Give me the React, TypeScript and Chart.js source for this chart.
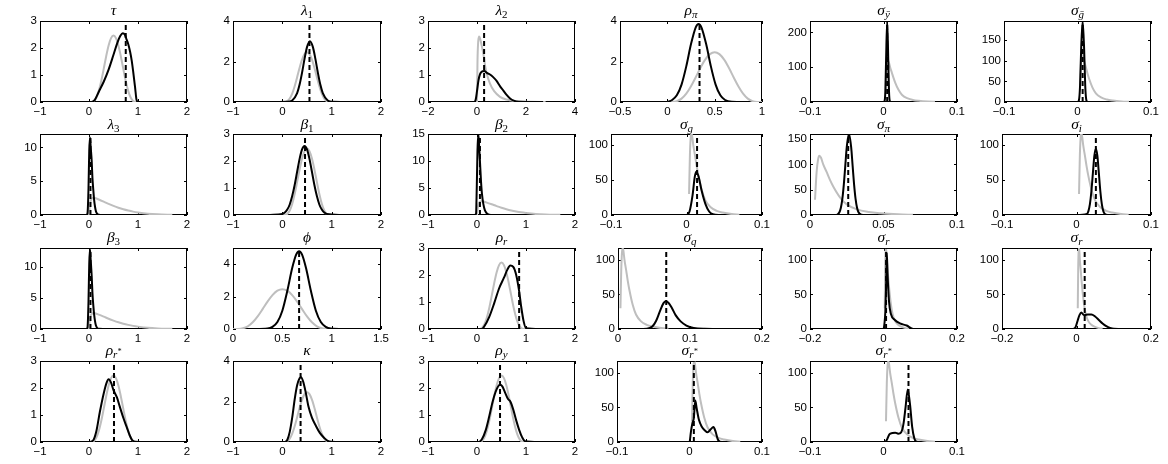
import React, { useEffect, useRef } from "react";
import { Chart, registerables } from "chart.js";

Chart.register(...registerables);

// ---------------- priors (grey) ----------------
const priorBeta: number[][] = [[0,0],[0.05,0.003],[0.1,0.041],[0.15,0.167],[0.2,0.413],[0.25,0.779],[0.3,1.225],[0.35,1.688],[0.4,2.09],[0.45,2.364],[0.5,2.461],[0.55,2.364],[0.6,2.09],[0.65,1.688],[0.7,1.225],[0.75,0.779],[0.8,0.413],[0.85,0.167],[0.9,0.041],[0.95,0.003],[1,0]];
const priorGamma: number[][] = [[0,0],[0.01,1.0],[0.03,2.0],[0.06,2.45],[0.1,2.55],[0.15,2.45],[0.2,2.3],[0.3,1.98],[0.4,1.65],[0.5,1.35],[0.6,1.08],[0.7,0.85],[0.8,0.66],[0.9,0.5],[1.0,0.38],[1.2,0.2],[1.4,0.1],[1.7,0.03]];
const priorLambda2: number[][] = [[0,0],[0.02,1.5],[0.05,2.25],[0.09,2.43],[0.14,2.3],[0.2,2.05],[0.26,1.78],[0.33,1.35],[0.4,1.05],[0.53,0.68],[0.7,0.4],[0.94,0.19],[1.2,0.09],[1.6,0.03],[2.2,0.01],[2.8,0]];
const priorSigma: number[][] = [[0.0034,30],[0.0045,85],[0.0055,110],[0.0064,117],[0.0075,113],[0.009,100],[0.0113,85],[0.0135,70],[0.0159,56],[0.0204,35],[0.025,21],[0.032,11],[0.04,6],[0.048,3.5],[0.06,1.3],[0.07,0.4]];

// ---------------- posteriors (black) ----------------
const postTau: number[][] = [[-0.22,0],[0.05,0],[0.12,0.08],[0.2,0.38],[0.3,0.75],[0.4,1.2],[0.5,1.75],[0.58,2.2],[0.64,2.45],[0.69,2.55],[0.73,2.5],[0.77,2.3],[0.8,2.15],[0.84,1.85],[0.87,1.55],[0.9,1.15],[0.94,0.55],[0.97,0.08],[1.0,0],[1.2,0]];
const postLambda1: number[][] = [[-0.1,0],[0.1,0.008],[0.2,0.077],[0.3,0.44],[0.35,0.86],[0.4,1.45],[0.45,2.13],[0.5,2.71],[0.56,3.0],[0.62,2.71],[0.67,2.13],[0.72,1.45],[0.77,0.86],[0.82,0.44],[0.92,0.077],[1.02,0.008],[1.3,0]];
const postLambda2: number[][] = [[-0.7,0],[-0.12,0],[-0.05,0.1],[0.0,0.4],[0.06,0.8],[0.12,1.02],[0.19,1.12],[0.3,1.15],[0.4,1.08],[0.53,1.02],[0.65,0.93],[0.8,0.78],[0.95,0.57],[1.07,0.43],[1.2,0.27],[1.35,0.13],[1.5,0.05],[1.7,0.01],[2.7,0]];
const postRhoPi: number[][] = [[0,0],[0.05,0.1],[0.1,0.33],[0.15,0.86],[0.2,1.76],[0.25,2.86],[0.3,3.69],[0.33,3.85],[0.36,3.69],[0.41,2.86],[0.46,1.76],[0.51,0.86],[0.56,0.33],[0.61,0.1],[0.68,0.01],[0.75,0]];
const postSigmaYbar: number[][] = [[-0.01,0],[0.0,0],[0.0015,3],[0.0025,30],[0.0035,120],[0.005,233],[0.0065,120],[0.0075,30],[0.0085,3],[0.01,0],[0.015,0]];
const postSigmaGbar: number[][] = [[-0.01,0],[0.0,0],[0.002,5],[0.0035,40],[0.005,130],[0.007,197],[0.009,130],[0.0105,40],[0.012,5],[0.014,0],[0.02,0]];
const postLambda3: number[][] = [[-0.05,0],[-0.03,0.3],[-0.01,4],[0.005,9.5],[0.02,11.5],[0.035,10],[0.055,8],[0.07,5.5],[0.088,3.7],[0.105,2.2],[0.122,1.26],[0.14,0.6],[0.16,0.25],[0.2,0.03],[0.3,0]];
const postBeta1: number[][] = [[-0.25,0],[0.0,0.038],[0.05,0.091],[0.1,0.2],[0.15,0.39],[0.2,0.7],[0.25,1.11],[0.3,1.6],[0.35,2.08],[0.4,2.43],[0.45,2.56],[0.5,2.43],[0.55,2.08],[0.6,1.6],[0.65,1.11],[0.7,0.7],[0.75,0.39],[0.8,0.2],[0.85,0.091],[0.9,0.038],[1.23,0]];
const postBeta2: number[][] = [[-0.05,0],[-0.02,0.2],[-0.005,5],[0.01,12],[0.027,15],[0.045,12.5],[0.06,10],[0.08,6.5],[0.1,4],[0.13,2.0],[0.16,0.9],[0.2,0.3],[0.25,0.05],[0.3,0]];
const postSigmaG: number[][] = [[-0.01,0],[0.0,0],[0.004,5],[0.008,28],[0.011,55],[0.013,62],[0.016,55],[0.02,35],[0.025,16],[0.03,5],[0.035,1],[0.045,0]];
const postSigmaPi: number[][] = [[0.011,0],[0.018,0.1],[0.02,5.4],[0.021,14.2],[0.022,31.7],[0.023,60],[0.024,97],[0.025,134],[0.0265,160],[0.028,134],[0.029,97],[0.03,60],[0.031,31.7],[0.032,14.2],[0.033,5.4],[0.035,0.5],[0.038,0]];
const postSigmaI: number[][] = [[-0.002,0],[0.014,1.6],[0.016,5.6],[0.018,15.5],[0.02,34],[0.022,60],[0.024,85],[0.026,95],[0.028,85],[0.03,60],[0.032,34],[0.034,15.5],[0.036,5.6],[0.038,1.6],[0.042,0.1],[0.05,0]];
const postBeta3: number[][] = [[-0.05,0],[-0.03,0.3],[-0.01,4.5],[0.005,10.5],[0.02,12.8],[0.035,11],[0.055,8.5],[0.07,5.8],[0.088,3.8],[0.105,2.3],[0.122,1.3],[0.14,0.6],[0.16,0.25],[0.2,0.03],[0.3,0]];
const postPhi: number[][] = [[0.2,0],[0.35,0.03],[0.4,0.13],[0.45,0.43],[0.5,1.13],[0.55,2.34],[0.6,3.76],[0.64,4.59],[0.67,4.8],[0.7,4.59],[0.74,3.76],[0.79,2.34],[0.84,1.13],[0.89,0.43],[0.94,0.13],[0.99,0.03],[1.15,0]];
const postRhoR: number[][] = [[-0.2,0],[0.1,0],[0.15,0.1],[0.25,0.45],[0.35,0.95],[0.45,1.5],[0.55,1.9],[0.62,2.2],[0.68,2.35],[0.74,2.3],[0.8,2.0],[0.86,1.4],[0.9,0.85],[0.95,0.3],[1.0,0.03],[1.3,0]];
const postSigmaQ: number[][] = [[0.01,0],[0.04,0.5],[0.048,4],[0.053,12],[0.058,25],[0.063,37],[0.066,40],[0.07,38],[0.075,30],[0.08,20],[0.087,11],[0.095,5],[0.105,1.5],[0.12,0.3],[0.155,0]];
const postSigmaR1: number[][] = [[-0.02,0],[0.0,0],[0.003,10],[0.005,25],[0.007,60],[0.009,110],[0.011,80],[0.015,40],[0.02,22],[0.031,13],[0.045,8],[0.063,5],[0.081,0],[0.1,0]];
const postSigmaR2: number[][] = [[-0.045,0],[-0.01,0],[-0.003,2],[0.003,12],[0.008,20],[0.013,24],[0.018,21],[0.022,20],[0.03,21],[0.04,21],[0.05,18],[0.06,13],[0.07,8],[0.08,4],[0.09,1.5],[0.1,0.3],[0.135,0]];
const postRhoRstar: number[][] = [[-0.27,0],[0.0,0],[0.08,0.05],[0.15,0.4],[0.22,1.1],[0.3,1.8],[0.36,2.2],[0.4,2.32],[0.45,2.2],[0.5,1.92],[0.57,1.65],[0.63,1.3],[0.7,0.9],[0.77,0.55],[0.83,0.25],[0.88,0.07],[0.95,0.01],[1.24,0]];
const postKappa: number[][] = [[-0.18,0],[0.05,0],[0.1,0.1],[0.15,0.5],[0.2,1.2],[0.25,2.1],[0.3,2.8],[0.35,3.15],[0.38,3.2],[0.42,3.0],[0.47,2.5],[0.53,1.75],[0.6,1.2],[0.68,0.8],[0.76,0.45],[0.85,0.2],[0.92,0.05],[1.0,0.01],[1.24,0]];
const postRhoY: number[][] = [[-0.22,0],[0.03,0],[0.1,0.1],[0.18,0.45],[0.25,0.95],[0.32,1.5],[0.4,1.95],[0.47,2.12],[0.52,2.05],[0.58,1.8],[0.63,1.6],[0.68,1.5],[0.74,1.2],[0.8,0.8],[0.86,0.45],[0.92,0.18],[0.98,0.03],[1.29,0]];
const postSigmaRstar1: number[][] = [[-0.005,0],[0.0,0],[0.002,15],[0.004,27],[0.006,35],[0.008,60],[0.01,48],[0.013,32],[0.017,22],[0.021,17],[0.025,14],[0.029,18],[0.033,21.5],[0.036,15],[0.039,4],[0.042,0.5],[0.05,0]];
const postSigmaRstar2: number[][] = [[-0.012,0],[0.002,0],[0.005,4],[0.008,11],[0.012,13],[0.016,13.5],[0.02,12],[0.024,14],[0.027,25],[0.03,50],[0.033,76],[0.036,55],[0.039,22],[0.042,5],[0.045,0.5],[0.05,0]];

// ---------------- dashed reference values ----------------
const trueValues = [0.75, 0.55, 0.29, 0.34, 0.005, 0.007, 0.03, 0.46, 0.06, 0.014, 0.026, 0.026, 0.03, 0.67, 0.86, 0.067, 0.007, 0.022, 0.51, 0.37, 0.47, 0.006, 0.034];

// ---------------- titles ----------------
const titleSymbols = ["τ","λ","λ","ρ","σ","σ","λ","β","β","σ","σ","σ","β","ϕ","ρ","σ","σ","σ","ρ","κ","ρ","σ","σ"];
const titleSubscripts = ["","1","2","π","ȳ","ḡ","3","1","2","g","π","i","3","","r","q","r","r","r*","","y","r*","r*"];

// ---------------- tick labels ----------------
const xtA = ["−1","0","1","2"];
const xtB = ["−2","0","2","4"];
const xtC = ["−0.5","0","0.5","1"];
const xtD = ["−0.1","0","0.1"];
const xtE = ["0","0.05","0.1"];
const xtF = ["0","0.5","1","1.5"];
const xtG = ["0","0.1","0.2"];
const xtH = ["−0.2","0","0.2"];
const ytA = ["0","1","2","3"];
const ytB = ["0","2","4"];
const ytC = ["0","100","200"];
const ytD = ["0","50","100","150"];
const ytE = ["0","5","10"];
const ytF = ["0","5","10","15"];
const ytG = ["0","50","100"];

const xTickLabelSets = [xtA, xtA, xtB, xtC, xtD, xtD, xtA, xtA, xtA, xtD, xtE, xtD, xtA, xtF, xtA, xtG, xtH, xtH, xtA, xtA, xtA, xtD, xtD];
const yTickLabelSets = [ytA, ytB, ytA, ytB, ytC, ytD, ytE, ytA, ytF, ytG, ytD, ytG, ytE, ytB, ytA, ytG, ytG, ytG, ytA, ytB, ytA, ytG, ytG];
const yMaxValues = [3, 4, 3, 4, 233, 197, 12, 3, 15, 116, 160, 116, 13, 5, 3, 117, 117, 117, 3, 4, 3, 117, 117];

const priorSets = [priorBeta, priorBeta, priorLambda2, priorBeta, priorSigma, priorSigma, priorGamma, priorBeta, priorGamma, priorSigma, priorSigma, priorSigma, priorGamma, priorBeta, priorBeta, priorSigma, priorSigma, priorSigma, priorBeta, priorBeta, priorBeta, priorSigma, priorSigma];
const posteriorSets = [postTau, postLambda1, postLambda2, postRhoPi, postSigmaYbar, postSigmaGbar, postLambda3, postBeta1, postBeta2, postSigmaG, postSigmaPi, postSigmaI, postBeta3, postPhi, postRhoR, postSigmaQ, postSigmaR1, postSigmaR2, postRhoRstar, postKappa, postRhoY, postSigmaRstar1, postSigmaRstar2];

// ---------------- layout ----------------
const rowTop = [21, 134, 248, 361];
const rowBottom = [102, 215, 329, 442];
const colLeftByRow = [
  [40, 233, 428, 620, 810, 1004],
  [40, 233, 428, 611, 810, 1002],
  [40, 233, 428, 618, 810, 1002],
  [40, 233, 428, 617, 810],
];
const colRight = [187, 381, 575, 762, 957, 1151];
const titleGap = [6, 5, 6, 6];

const PAD_L = 40, PAD_T = 10, PAD_R = 18, PAD_B = 22;
const GRAY = "rgb(190,190,190)";
const TICK_FONT = { family: '"Liberation Sans", Arial, sans-serif', size: 11.5 };

const toNum = (s: string) => parseFloat(s.replace("−", "-"));

const framePlugin = {
  id: "matlabFrame",
  beforeDatasetsDraw(chart: any) {
    const { ctx, chartArea } = chart;
    const { left, top, right, bottom } = chartArea;
    const xs = chart.scales.x, ys = chart.scales.y;
    ctx.save();
    ctx.strokeStyle = "#000";
    ctx.lineWidth = 1;
    ctx.strokeRect(left + 0.5, top + 0.5, right - left - 1, bottom - top - 1);
    ctx.beginPath();
    const tl = 3;
    for (const t of xs.ticks) {
      const px = Math.round(xs.getPixelForValue(t.value)) + 0.5;
      ctx.moveTo(px, bottom); ctx.lineTo(px, bottom - tl);
      ctx.moveTo(px, top); ctx.lineTo(px, top + tl);
    }
    for (const t of ys.ticks) {
      const py = Math.round(ys.getPixelForValue(t.value)) + 0.5;
      ctx.moveTo(left, py); ctx.lineTo(left + tl, py);
      ctx.moveTo(right, py); ctx.lineTo(right - tl, py);
    }
    ctx.stroke();
    ctx.restore();
  },
};

function Panel({ index }: { index: number }) {
  const ref = useRef<HTMLCanvasElement | null>(null);
  const row = Math.floor(index / 6), col = index % 6;
  const L = colLeftByRow[row][col], R = colRight[col], T = rowTop[row], B = rowBottom[row];
  const W = R - L + PAD_L + PAD_R;
  const H = B - T + PAD_T + PAD_B;

  useEffect(() => {
    const canvas = ref.current;
    if (!canvas) return;
    const xLabels = xTickLabelSets[index];
    const yLabels = yTickLabelSets[index];
    const xVals = xLabels.map(toNum);
    const yVals = yLabels.map(toNum);
    const ymax = yMaxValues[index];
    const tv = trueValues[index];
    const pts = (arr: number[][]) => arr.map(([x, y]) => ({ x, y }));
    const chart = new Chart(canvas, {
      type: "line",
      data: {
        datasets: [
          { data: [{ x: tv, y: 0 }, { x: tv, y: ymax }], borderColor: "#000", borderWidth: 2, borderDash: [5, 3], order: 0, tension: 0, pointRadius: 0 } as any,
          { data: pts(posteriorSets[index]), borderColor: "#000", borderWidth: 2, order: 1, cubicInterpolationMode: "monotone", pointRadius: 0 } as any,
          { data: pts(priorSets[index]), borderColor: GRAY, borderWidth: 2, order: 2, cubicInterpolationMode: "monotone", pointRadius: 0 } as any,
        ],
      },
      options: {
        animation: false,
        responsive: false,
        devicePixelRatio: 1,
        events: [],
        layout: { padding: { left: 0, top: PAD_T, right: PAD_R, bottom: 0 } },
        plugins: { legend: { display: false }, tooltip: { enabled: false }, title: { display: false } },
        elements: { point: { radius: 0 }, line: { fill: false } },
        scales: {
          x: {
            type: "linear",
            min: xVals[0],
            max: xVals[xVals.length - 1],
            grid: { display: false, drawTicks: false },
            border: { display: false },
            ticks: { font: TICK_FONT, color: "#000", padding: 3, autoSkip: false, maxRotation: 0, callback: (_v: any, i: number) => xLabels[i] ?? "" },
            afterBuildTicks: (s: any) => { s.ticks = xVals.map((v) => ({ value: v })); },
            afterFit: (s: any) => { s.height = PAD_B; },
          },
          y: {
            type: "linear",
            min: 0,
            max: ymax,
            grid: { display: false, drawTicks: false },
            border: { display: false },
            ticks: { font: TICK_FONT, color: "#000", padding: 3, autoSkip: false, callback: (_v: any, i: number) => yLabels[i] ?? "" },
            afterBuildTicks: (s: any) => { s.ticks = yVals.map((v) => ({ value: v })); },
            afterFit: (s: any) => { s.width = PAD_L; },
          },
        },
      } as any,
      plugins: [framePlugin],
    });
    return () => chart.destroy();
  }, [index]);

  const base = titleSymbols[index];
  const sub = titleSubscripts[index];
  const baseline = T - titleGap[row];
  const subMain = sub.replace("*", "");
  const hasStar = sub.includes("*");
  const subUpright = /^[0-9]+$/.test(subMain);

  return (
    <>
      <canvas
        ref={ref}
        width={W}
        height={H}
        style={{ position: "absolute", left: L - PAD_L, top: T - PAD_T, width: W, height: H }}
      />
      <div
        style={{
          position: "absolute",
          left: L,
          width: R - L,
          top: baseline - 13,
          height: 16,
          lineHeight: "16px",
          textAlign: "center",
          fontFamily: '"Liberation Serif", "DejaVu Serif", serif',
          fontStyle: "italic",
          fontSize: 15.5,
          whiteSpace: "nowrap",
          color: "#000",
        }}
      >
        {base}
        {sub ? (
          <span style={{ fontSize: 11, position: "relative", top: 3, lineHeight: 0, fontStyle: subUpright ? "normal" : "italic" }}>
            {subMain}
            {hasStar ? <span style={{ fontSize: 8, position: "relative", top: -4 }}>*</span> : null}
          </span>
        ) : null}
      </div>
    </>
  );
}

export default function App() {
  const indices = Array.from({ length: 23 }, (_, i) => i);
  return (
    <div style={{ position: "absolute", left: 0, top: 0, width: 1168, height: 464, background: "#fff", overflow: "hidden" }}>
      {indices.map((i) => (
        <Panel key={i} index={i} />
      ))}
    </div>
  );
}
